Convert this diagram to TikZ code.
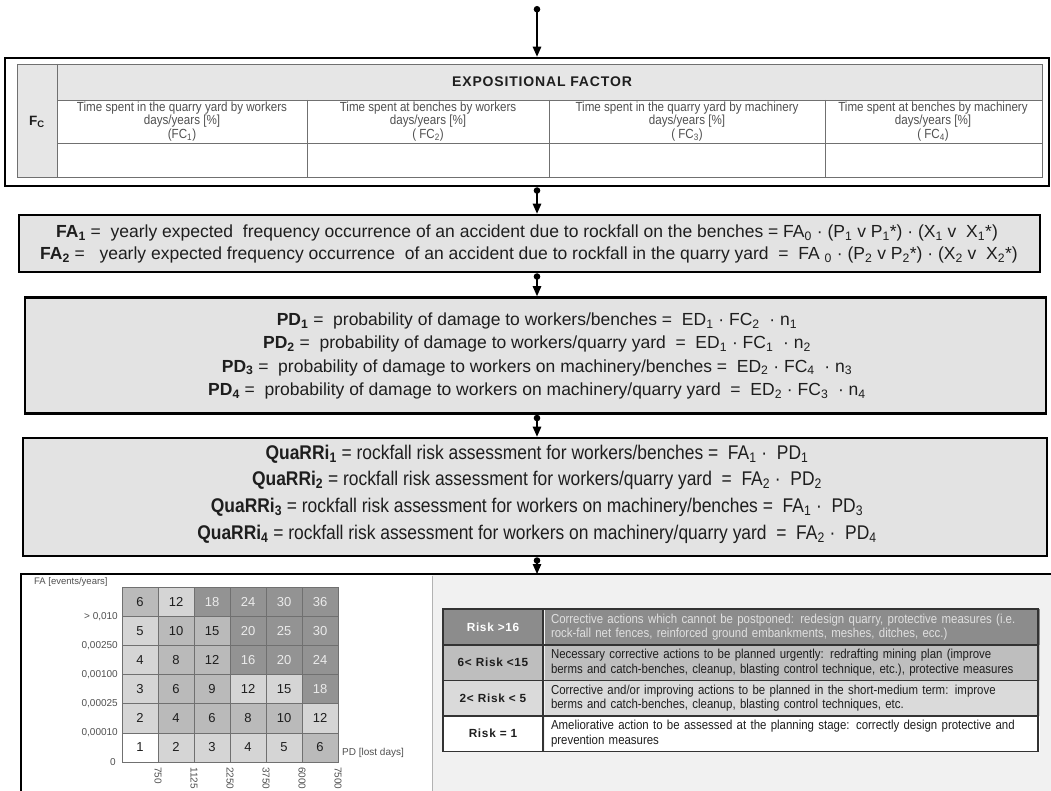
\documentclass[tikz,border=0pt]{standalone}
\usepackage{fontspec}
\setmainfont{Liberation Sans}
\newfontfamily\narrowfont[FakeStretch=0.88]{Liberation Sans}
\newfontfamily\spacedfont[LetterSpace=6]{Liberation Sans}
\usetikzlibrary{arrows.meta}
\definecolor{boxfill}{HTML}{E3E3E3}
\definecolor{hdrfill}{HTML}{E6E6E6}
\definecolor{gridc}{HTML}{707070}
\definecolor{mW}{HTML}{FFFFFF}
\definecolor{mL}{HTML}{D5D5D5}
\definecolor{mM}{HTML}{BABABA}
\definecolor{mD}{HTML}{939393}
\definecolor{panel}{HTML}{F1F1F1}
\definecolor{riskD}{HTML}{8C8C8C}
\definecolor{riskM}{HTML}{BEBEBE}
\definecolor{riskL}{HTML}{DADADA}
\definecolor{txtgray}{HTML}{505050}
\definecolor{txtdark}{HTML}{1E1E1E}
\tikzset{
  frame/.style={draw=black, line width=2.6pt, fill=boxfill, inner sep=0pt},
  flow/.style={line width=1.2pt, {Circle[length=6.5pt]}-{Triangle[length=10pt,width=8.5pt]}},
  eq/.style={font=\fontsize{17.5}{20}\selectfont, text=txtdark, inner sep=0pt},
  qeq/.style={font=\narrowfont\fontsize{19.8}{22}\selectfont, text=txtdark, inner sep=0pt},
  coltext/.style={font=\narrowfont\fontsize{13.2}{13.5}\selectfont, text=txtgray, align=center, inner sep=0pt},
  cell/.style={draw=gridc, line width=0.6pt, minimum width=36pt, minimum height=29.17pt, inner sep=0pt, font=\fontsize{13}{15}\selectfont},
  mcellW/.style={cell, fill=mW, text=txtdark},
  mcellL/.style={cell, fill=mL, text=txtdark},
  mcellM/.style={cell, fill=mM, text=txtdark},
  mcellD/.style={cell, fill=mD, text=white!92!black},
  ylab/.style={font=\fontsize{10}{12}\selectfont, text=txtgray, anchor=east, inner sep=0pt},
  xlab/.style={font=\fontsize{10}{12}\selectfont, text=txtgray, anchor=west, rotate=-90, inner sep=0pt},
  rleft/.style={minimum width=100pt, minimum height=35.5pt, inner sep=0pt, font=\spacedfont\fontsize{11.8}{14}\selectfont\bfseries},
  rright/.style={minimum width=495pt, minimum height=35.5pt, inner sep=0pt, text width=482pt, align=left, font=\narrowfont\fontsize{13}{14.5}\selectfont},
}
\begin{document}
\begin{tikzpicture}[x=1pt,y=-1pt]
\clip (0,0) rectangle (1051,791);
\fill[white] (0,0) rectangle (1051,791);

% ---------- top table ----------
\node[draw=black, line width=2.6pt, minimum width=1044pt, minimum height=128pt, inner sep=0pt] (tab) at (527,122) {};
\fill[hdrfill] (17,64) rectangle (57,177);
\fill[hdrfill] (57,64) rectangle (1042,100);
\draw[gridc, line width=0.8pt] (17,64) rectangle (1042,177);
\draw[gridc, line width=0.8pt] (57,64) -- (57,177) (57,100) -- (1042,100) (57,143) -- (1042,143)
  (307,100) -- (307,177) (549,100) -- (549,177) (825,100) -- (825,177);
\node[inner sep=0pt, font=\fontsize{13.5}{15}\selectfont\bfseries, text=txtdark] (fc) at (37,122) {F\textsubscript{C}};
\node[inner sep=0pt, font=\spacedfont\fontsize{14}{16}\selectfont\bfseries, text=txtdark] (expo) at (542,82) {EXPOSITIONAL FACTOR};
\node[coltext] (c1) at (182,121.5) {Time spent in the quarry yard by workers\\days/years [\%]\\(FC\textsubscript{1})};
\node[coltext] (c2) at (428,121.5) {Time spent at benches by workers\\days/years [\%]\\( FC\textsubscript{2})};
\node[coltext] (c3) at (687,121.5) {Time spent in the quarry yard by machinery\\days/years [\%]\\( FC\textsubscript{3})};
\node[coltext] (c4) at (933,121.5) {Time spent at benches by machinery\\days/years [\%]\\( FC\textsubscript{4})};

% ---------- FA box ----------
\node[frame, minimum width=1021pt, minimum height=57pt] (fabox) at (529.5,243.5) {};
\node[eq] (fa1) at (527,233) {\textbf{FA\textsubscript{1}} = \ yearly expected \ frequency occurrence of an accident due to rockfall on the benches = FA\textsubscript{0} · (P\textsubscript{1} v P\textsubscript{1}*) · (X\textsubscript{1} v \ X\textsubscript{1}*)};
\node[eq] (fa2) at (529,255) {\textbf{FA\textsubscript{2}} = \ \ yearly expected frequency occurrence \ of an accident due to rockfall in the quarry yard \ = \ FA \textsubscript{0} · (P\textsubscript{2} v P\textsubscript{2}*) · (X\textsubscript{2} v \ X\textsubscript{2}*)};

% ---------- PD box ----------
\node[frame, minimum width=1021pt, minimum height=116pt] (pdbox) at (535.5,355.5) {};
\node[eq] (pd1) at (537,321) {\textbf{PD\textsubscript{1}} = \ probability of damage to workers/benches = \ ED\textsubscript{1} · FC\textsubscript{2} \ · n\textsubscript{1}};
\node[eq] (pd2) at (537,344) {\textbf{PD\textsubscript{2}} = \ probability of damage to workers/quarry yard \ = \ ED\textsubscript{1} · FC\textsubscript{1} \ · n\textsubscript{2}};
\node[eq] (pd3) at (537,367.5) {\textbf{PD\textsubscript{3}} = \ probability of damage to workers on machinery/benches = \ ED\textsubscript{2} · FC\textsubscript{4} \ · n\textsubscript{3}};
\node[eq] (pd4) at (537,391) {\textbf{PD\textsubscript{4}} = \ probability of damage to workers on machinery/quarry yard \ = \ ED\textsubscript{2} · FC\textsubscript{3} \ · n\textsubscript{4}};

% ---------- QuaRRi box ----------
\node[frame, minimum width=1024pt, minimum height=118pt] (qbox) at (535,497) {};
\node[qeq] (q1) at (537,454) {\textbf{QuaRRi\textsubscript{1}} = rockfall risk assessment for workers/benches = \ FA\textsubscript{1} · \ PD\textsubscript{1}};
\node[qeq] (q2) at (537,480) {\textbf{QuaRRi\textsubscript{2}} = rockfall risk assessment for workers/quarry yard \ = \ FA\textsubscript{2} · \ PD\textsubscript{2}};
\node[qeq] (q3) at (537,507) {\textbf{QuaRRi\textsubscript{3}} = rockfall risk assessment for workers on machinery/benches = \ FA\textsubscript{1} · \ PD\textsubscript{3}};
\node[qeq] (q4) at (537,534) {\textbf{QuaRRi\textsubscript{4}} = rockfall risk assessment for workers on machinery/quarry yard \ = \ FA\textsubscript{2} · \ PD\textsubscript{4}};

% ---------- bottom box ----------
\fill[white] (21,574) rectangle (432,800);
\fill[panel] (432,574) rectangle (1060,800);
\draw[black!30, line width=0.8pt] (432,576) -- (432,800);
\draw[black, line width=2.6pt] (21,800) -- (21,574) -- (1060,574);
\coordinate (bot) at (537,574);

% risk matrix
\foreach \r/\shl in {6/{M,L,D,D,D,D},5/{L,M,M,D,D,D},4/{L,M,M,D,D,D},3/{L,M,M,L,L,D},2/{L,M,M,M,M,L},1/{W,L,L,L,L,M}}{
  \foreach \s [count=\c] in \shl {
    \pgfmathtruncatemacro{\v}{\r*\c}
    \node[mcell\s] (m-\r-\c) at ({122+36*(\c-0.5)},{587+29.17*(6-\r+0.5)}) {\v};
  }
}
\node[font=\fontsize{9.5}{11}\selectfont, text=txtgray, anchor=west, inner sep=0pt] (faax) at (34,582) {FA [events/years]};
\node[ylab] (y1) at (118,617) {> 0,010};
\node[ylab] (y2) at (118,646) {0,00250};
\node[ylab] (y3) at (118,675) {0,00100};
\node[ylab] (y4) at (118,704) {0,00025};
\node[ylab] (y5) at (118,733) {0,00010};
\node[ylab] (y6) at (116,762) {0};
\node[font=\fontsize{10}{12}\selectfont, text=txtgray, anchor=west, inner sep=0pt] (pdax) at (342,753) {PD [lost days]};
\foreach \lab [count=\c] in {750,1125,2250,3750,6000,7500}{
  \node[xlab] (x\c) at ({122+36*\c},767) {\lab};
}

% risk table
\node[rleft, fill=riskD, text=white] (r1l) at (493,627) {Risk >16};
\node[rright, fill=riskD, text=black!12] (r1r) at (792,627) {Corrective actions which cannot be postponed: redesign quarry, protective measures (i.e.\\rock-fall net fences, reinforced ground embankments, meshes, ditches, ecc.)};
\node[rleft, fill=riskM, text=txtdark] (r2l) at (493,662.5) {6< Risk <15};
\node[rright, fill=riskM, text=txtdark] (r2r) at (792,662.5) {Necessary corrective actions to be planned urgently: redrafting mining plan (improve\\berms and catch-benches, cleanup, blasting control technique, etc.), protective measures};
\node[rleft, fill=riskL, text=txtdark] (r3l) at (493,698) {2< Risk < 5};
\node[rright, fill=riskL, text=txtdark] (r3r) at (792,698) {Corrective and/or improving actions to be planned in the short-medium term: improve\\berms and catch-benches, cleanup, blasting control techniques, etc.};
\node[rleft, fill=white, text=txtdark] (r4l) at (493,733.5) {Risk = 1};
\node[rright, fill=white, text=txtdark] (r4r) at (792,733.5) {Ameliorative action to be assessed at the planning stage: correctly design protective and\\prevention measures};
\draw[black!80, line width=1.6pt] (443,609) rectangle (1038,751.5)
  (543,609) -- (543,751.5) (443,645) -- (1038,645) (443,680.5) -- (1038,680.5) (443,716) -- (1038,716);

% ---------- arrows ----------
\coordinate (start) at (537,6);
\draw[flow] (start) -- (tab.north -| start);
\draw[flow] (tab.south -| start) -- (fabox.north -| start);
\draw[flow] (fabox.south -| start) -- (pdbox.north -| start);
\draw[flow] (pdbox.south -| start) -- (qbox.north -| start);
\draw[flow] (qbox.south -| start) -- (bot);
\end{tikzpicture}
\end{document}
